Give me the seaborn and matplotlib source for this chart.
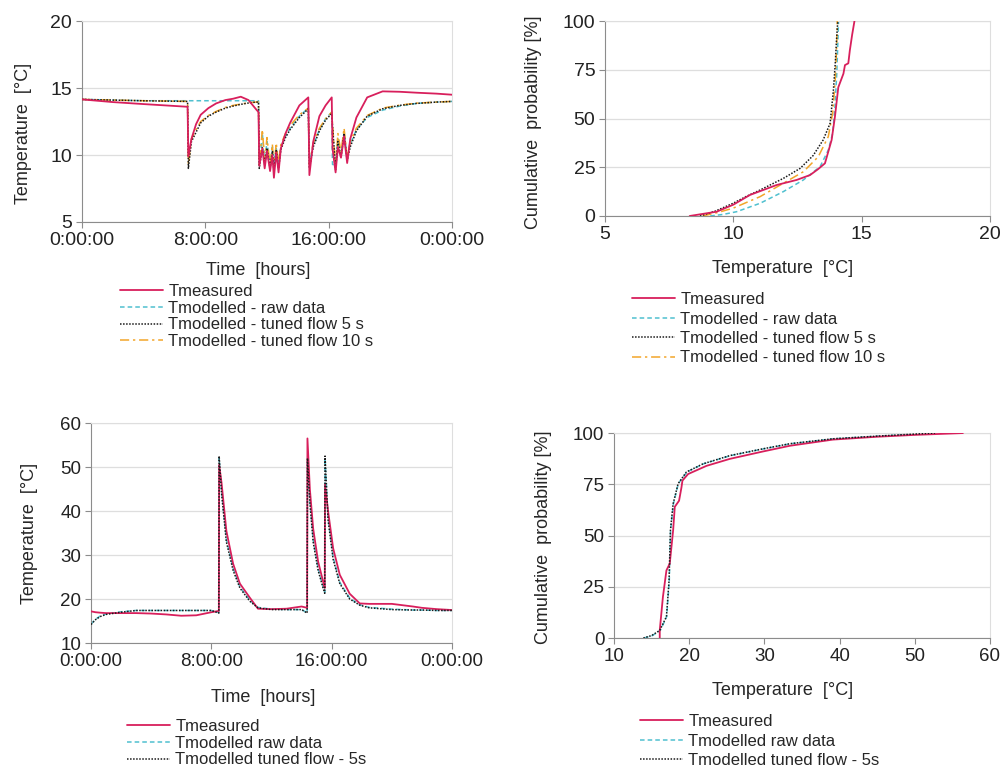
# %%
import numpy as np
import pandas as pd
import matplotlib.pyplot as plt
import seaborn as sns

# %% values
# case A: day profile (hours, degC), shared time grid for all series
hours_a = [0, 2, 4, 6.85, 6.9, 7.1, 7.4, 7.7, 8.2, 8.7,
           9.3, 9.8, 10.3, 10.8, 11.3, 11.45, 11.5, 11.7, 11.85, 12.0,
           12.2, 12.35, 12.45, 12.6, 12.75, 12.9, 13.2, 13.5, 14.1, 14.68,
           14.75, 15.0, 15.4, 15.8, 16.2, 16.25, 16.45, 16.6, 16.8, 17.0,
           17.2, 17.4, 17.8, 18.5, 19.5, 20.6, 21.7, 23, 24]
meas_a = [14.15, 13.95, 13.8, 13.6, 9.9, 11.2, 12.3, 13.0, 13.5, 13.85,
          14.1, 14.2, 14.35, 14.1, 13.4, 13.2, 9.2, 10.5, 9.0, 10.3,
          8.8, 10.0, 8.3, 10.2, 8.7, 10.5, 11.6, 12.4, 13.7, 14.3,
          8.5, 11.0, 12.9, 13.7, 14.3, 10.5, 8.7, 10.6, 9.8, 11.4,
          9.4, 11.2, 12.8, 14.3, 14.75, 14.72, 14.65, 14.58, 14.5]
raw_a = [14.15, 14.1, 14.05, 14.05, 14.05, 14.05, 14.05, 14.05, 14.05, 14.05,
         14.05, 14.05, 14.05, 14.05, 14.05, 14.05, 9.2, 11.6, 9.5, 11.0,
         9.3, 10.6, 9.2, 10.5, 9.3, 10.6, 11.4, 12.0, 12.9, 13.5,
         9.4, 10.7, 11.9, 12.7, 13.2, 9.3, 9.2, 11.2, 10.0, 11.7,
         9.8, 10.8, 11.9, 12.8, 13.35, 13.65, 13.85, 13.95, 14.0]
flow5_a = [14.15, 14.1, 14.05, 14.0, 9.0, 11.0, 11.7, 12.4, 12.9, 13.2,
           13.5, 13.65, 13.78, 13.88, 13.95, 13.95, 9.0, 10.6, 9.3, 10.5,
           9.0, 10.3, 8.8, 10.4, 9.0, 10.4, 11.3, 11.9, 12.8, 13.45,
           9.0, 10.6, 11.8, 12.6, 13.1, 12.2, 8.9, 11.0, 9.8, 11.6,
           9.6, 10.6, 11.8, 12.9, 13.45, 13.7, 13.85, 13.95, 14.0]
flow10_a = [14.15, 14.1, 14.05, 14.0, 9.3, 11.2, 11.9, 12.5, 12.95, 13.25,
            13.55, 13.7, 13.8, 13.9, 13.95, 13.95, 9.3, 11.9, 9.6, 11.3,
            9.2, 10.8, 9.0, 10.9, 9.3, 10.8, 11.6, 12.2, 13.0, 13.5,
            9.3, 10.9, 12.0, 12.7, 13.2, 12.3, 9.2, 11.6, 10.2, 12.0,
            9.8, 11.0, 12.0, 12.95, 13.5, 13.72, 13.87, 13.95, 14.0]

# case A: cumulative curves (degC, %)
cdf_meas_a_t = [8.3, 9.35, 10.0, 10.65, 11.2, 11.69, 12.47, 12.99, 13.3, 13.57,
                13.83, 13.96, 14.09, 14.29, 14.35, 14.48, 14.54, 14.63, 14.72]
cdf_meas_a_p = [0, 2.2, 5.8, 10.8, 13.5, 15.9, 18.5, 21, 24, 27,
                39, 51, 66, 73, 77.4, 78.3, 85, 93, 100]
cdf_raw_a_t = [9.1, 9.6, 10.13, 11.04, 11.95, 12.73, 13.38, 13.7, 13.87, 13.96,
               14.03, 14.07, 14.1]
cdf_raw_a_p = [0, 0.8, 2.2, 6.5, 12.5, 18.5, 25.3, 33.8, 42.4, 56, 73, 88, 100]
cdf_5s_a_t = [8.7, 9.3, 9.99, 10.5, 11.04, 11.95, 12.6, 13.11, 13.5, 13.77,
              13.9, 13.97, 14.02, 14.07]
cdf_5s_a_p = [0, 2.5, 6.5, 10, 13.3, 19.3, 24.4, 31, 39, 47.5, 64.6, 78, 90, 100]
cdf_10s_a_t = [8.8, 9.4, 9.99, 11.04, 11.95, 12.73, 13.31, 13.7, 13.87, 13.97,
               14.02, 14.05]
cdf_10s_a_p = [0, 1.8, 4, 9.9, 16.8, 22.7, 30.4, 40.7, 52.8, 69.7, 85, 100]

# case B: day profile (hours, degC)
hours_b = [0, 0.3, 0.6, 1, 2, 3, 4, 5, 6, 7,
           8, 8.5, 8.52, 8.68, 9.0, 9.45, 9.9, 10.56, 11.1, 12,
           13, 14, 14.37, 14.39, 14.55, 14.77, 15.1, 15.43, 15.54, 15.56,
           15.76, 16.1, 16.54, 17.2, 17.87, 18.5, 20, 21.4, 22, 23, 24]
meas_b = [17.2, 17.0, 16.9, 16.8, 16.8, 16.8, 16.7, 16.5, 16.2, 16.3,
          17.0, 17.3, 50.5, 46.4, 35.5, 28.0, 23.5, 20.3, 17.8, 17.7,
          17.8, 18.3, 18.0, 56.5, 45.0, 36.0, 28.5, 24.0, 22.5, 46.0,
          40.0, 31.5, 25.5, 21.2, 19.0, 18.9, 18.9, 18.3, 18.0, 17.7, 17.5]
raw_b = [14.3, 15.4, 16.1, 16.6, 17.1, 17.4, 17.4, 17.4, 17.4, 17.4,
         17.4, 16.9, 52.0, 44.5, 33.5, 27.0, 22.8, 19.7, 18.1, 17.7,
         17.6, 17.6, 16.9, 51.5, 42.5, 33.5, 27.0, 22.8, 21.5, 52.0,
         38.5, 29.5, 23.8, 20.2, 18.7, 18.1, 17.7, 17.5, 17.5, 17.4, 17.4]
flow5_b = [14.2, 15.3, 16.0, 16.5, 17.0, 17.4, 17.4, 17.4, 17.4, 17.4,
           17.4, 16.8, 52.5, 44.0, 33.0, 26.5, 22.5, 19.5, 18.0, 17.6,
           17.6, 17.6, 16.8, 52.0, 42.0, 33.0, 26.5, 22.5, 21.3, 52.5,
           38.0, 29.0, 23.5, 20.0, 18.6, 18.0, 17.6, 17.5, 17.5, 17.4, 17.4]

# case B: cumulative curves (degC, %)
cdf_meas_b_t = [16.08, 16.08, 16.5, 16.97, 17.41, 17.86, 18.08, 18.65, 18.97, 19.1,
                19.85, 22.3, 25.4, 29.8, 33.4, 39.1, 45, 50, 56.4]
cdf_meas_b_p = [0, 3.7, 20, 33, 36.3, 52.5, 64, 67, 73.5, 76.8,
                80, 84, 87.4, 91, 93.8, 96.8, 98.2, 99.1, 100]
cdf_raw_b_t = [14.0, 15.1, 16.15, 17.0, 17.35, 17.52, 17.9, 18.55, 19.7, 21.9,
               25.5, 29.9, 33.5, 39.2, 45.1, 50.1, 52.6]
cdf_5s_b_t = [13.9, 15.0, 16.08, 16.97, 17.32, 17.5, 17.86, 18.52, 19.63, 21.85,
              25.4, 29.8, 33.4, 39.1, 45, 50, 52.7]
cdf_5s_b_p = [0, 1.2, 3.7, 10.4, 28, 52.5, 65.5, 75.3, 81, 85,
              89, 92.3, 94.8, 97.2, 98.5, 99.5, 100]

time_ticks = [0, 8, 16, 24]
time_labels = ["0:00:00", "8:00:00", "16:00:00", "0:00:00"]

labels_a = ["Tmeasured", "Tmodelled - raw data",
            "Tmodelled - tuned flow 5 s", "Tmodelled - tuned flow 10 s"]
labels_b = ["Tmeasured", "Tmodelled raw data", "Tmodelled tuned flow - 5s"]

# %% styling
COR_MEAS = "#d81f5c"
COR_RAW = "#4fc0cf"
COR_5S = "#1a1a1a"
COR_10S = "#f2a52a"
COR_GRADE = "#dedede"
COR_EIXO = "#8c8c8c"

LS_MEAS = "-"
LS_RAW = (0, (3, 2))
LS_5S = (0, (1, 1))
LS_10S = (0, (6, 2.5, 1.5, 2.5))

sns.set_style("white")
plt.rcParams["font.family"] = ["Liberation Sans", "DejaVu Sans"]

fig = plt.figure(figsize=(10.02, 7.70), dpi=100)
ax_tl = fig.add_axes([0.0818, 0.7117, 0.3693, 0.2610])
ax_tr = fig.add_axes([0.6038, 0.7195, 0.3842, 0.2532])
ax_bl = fig.add_axes([0.0908, 0.1649, 0.3603, 0.2857])
ax_br = fig.add_axes([0.6128, 0.1714, 0.3752, 0.2662])


def linha(ax, x, y, cor, ls, lw, label, z):
    sns.lineplot(x=x, y=y, ax=ax, color=cor, linestyle=ls, linewidth=lw,
                 label=label, estimator=None, sort=False, legend=False, zorder=z)


def estilo(ax, fs):
    ax.grid(axis="y", color=COR_GRADE, linewidth=0.9)
    ax.grid(axis="x", visible=False)
    ax.set_axisbelow(True)
    for lado in ["top", "right"]:
        ax.spines[lado].set_color(COR_GRADE)
    for lado in ["left", "bottom"]:
        ax.spines[lado].set_color(COR_EIXO)
    ax.tick_params(bottom=True, left=True, direction="out", length=4,
                   width=0.8, color=COR_EIXO, labelsize=fs, pad=3,
                   labelcolor="#222222")


def legenda(ax, ordem, x, y, labelspacing):
    h, l = ax.get_legend_handles_labels()
    h = [h[l.index(s)] for s in ordem]
    ax.legend(h, ordem, loc="upper left", bbox_to_anchor=(x, y),
              bbox_transform=fig.transFigure, frameon=False, fontsize=12,
              handlelength=2.6, handletextpad=0.3, labelspacing=labelspacing,
              borderpad=0, borderaxespad=0)


# %% top left: day profile, case A
linha(ax_tl, hours_a, raw_a, COR_RAW, LS_RAW, 1.1, labels_a[1], 2)
linha(ax_tl, hours_a, flow10_a, COR_10S, LS_10S, 1.1, labels_a[3], 3)
linha(ax_tl, hours_a, flow5_a, COR_5S, LS_5S, 1.1, labels_a[2], 4)
linha(ax_tl, hours_a, meas_a, COR_MEAS, LS_MEAS, 1.3, labels_a[0], 5)
ax_tl.set_xlim(0, 24)
ax_tl.set_ylim(5, 20)
ax_tl.set_xticks(time_ticks, time_labels)
ax_tl.set_yticks([5, 10, 15, 20])
estilo(ax_tl, 14)
ax_tl.set_ylabel("Temperature  [°C]", fontsize=13)
ax_tl.set_xlabel("Time  [hours]", fontsize=13)
ax_tl.yaxis.set_label_coords(-0.135, 0.44)
ax_tl.xaxis.set_label_coords(0.476, -0.2)
legenda(ax_tl, labels_a, 120 / 1002, 1 - 284 / 770, 0.1)

# %% top right: cumulative, case A
linha(ax_tr, cdf_raw_a_t, cdf_raw_a_p, COR_RAW, LS_RAW, 1.1, labels_a[1], 2)
linha(ax_tr, cdf_10s_a_t, cdf_10s_a_p, COR_10S, LS_10S, 1.1, labels_a[3], 3)
linha(ax_tr, cdf_5s_a_t, cdf_5s_a_p, COR_5S, LS_5S, 1.1, labels_a[2], 4)
linha(ax_tr, cdf_meas_a_t, cdf_meas_a_p, COR_MEAS, LS_MEAS, 1.3, labels_a[0], 5)
ax_tr.set_xlim(5, 20)
ax_tr.set_ylim(0, 100)
ax_tr.set_xticks([5, 10, 15, 20])
ax_tr.set_yticks([0, 25, 50, 75, 100])
estilo(ax_tr, 14)
ax_tr.set_ylabel("Cumulative  probability [%]", fontsize=13)
ax_tr.set_xlabel("Temperature  [°C]", fontsize=13)
ax_tr.yaxis.set_label_coords(-0.164, 0.48)
ax_tr.xaxis.set_label_coords(0.462, -0.225)
legenda(ax_tr, labels_a, 632 / 1002, 1 - 292 / 770, 0.27)

# %% bottom left: day profile, case B
linha(ax_bl, hours_b, raw_b, COR_RAW, LS_RAW, 1.1, labels_b[1], 2)
linha(ax_bl, hours_b, flow5_b, COR_5S, LS_5S, 1.1, labels_b[2], 4)
linha(ax_bl, hours_b, meas_b, COR_MEAS, LS_MEAS, 1.3, labels_b[0], 3)
ax_bl.set_xlim(0, 24)
ax_bl.set_ylim(10, 60)
ax_bl.set_xticks(time_ticks, time_labels)
ax_bl.set_yticks([10, 20, 30, 40, 50, 60])
estilo(ax_bl, 13.5)
ax_bl.set_ylabel("Temperature  [°C]", fontsize=13)
ax_bl.set_xlabel("Time  [hours]", fontsize=13)
ax_bl.yaxis.set_label_coords(-0.147, 0.5)
ax_bl.xaxis.set_label_coords(0.476, -0.209)
legenda(ax_bl, labels_b, 127 / 1002, 1 - 719 / 770, 0.1)

# %% bottom right: cumulative, case B
linha(ax_br, cdf_raw_b_t, cdf_5s_b_p, COR_RAW, LS_RAW, 1.1, labels_b[1], 2)
linha(ax_br, cdf_5s_b_t, cdf_5s_b_p, COR_5S, LS_5S, 1.1, labels_b[2], 4)
linha(ax_br, cdf_meas_b_t, cdf_meas_b_p, COR_MEAS, LS_MEAS, 1.3, labels_b[0], 3)
ax_br.set_xlim(10, 60)
ax_br.set_ylim(0, 100)
ax_br.set_xticks([10, 20, 30, 40, 50, 60])
ax_br.set_yticks([0, 25, 50, 75, 100])
estilo(ax_br, 13.5)
ax_br.set_ylabel("Cumulative  probability [%]", fontsize=13)
ax_br.set_xlabel("Temperature  [°C]", fontsize=13)
ax_br.yaxis.set_label_coords(-0.165, 0.49)
ax_br.xaxis.set_label_coords(0.447, -0.215)
legenda(ax_br, labels_b, 640 / 1002, 1 - 714 / 770, 0.27)

fig.savefig("out.png", dpi=100)
